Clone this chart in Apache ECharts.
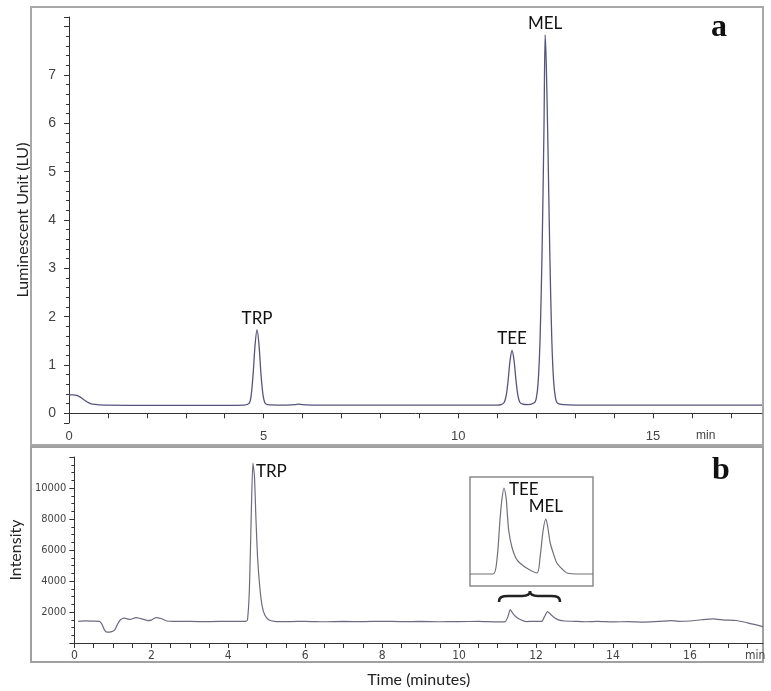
<!DOCTYPE html>
<html>
<head>
<meta charset="utf-8">
<script src="https://cdn.jsdelivr.net/npm/echarts@6/dist/echarts.min.js"></script>
<style>
  html, body { margin: 0; padding: 0; background: #fff; }
  #chart { width: 771px; height: 691px; }
</style>
</head>
<body>
<div id="chart"></div>
<script>
// panel a : fluorescence trace, [min, LU]
var traceA = [
  [0, 0.38], [0.1, 0.38], [0.2, 0.37], [0.3, 0.33], [0.4, 0.27], [0.5, 0.22], [0.6, 0.19],
  [0.8, 0.175], [1.0, 0.17], [2, 0.165], [3, 0.165], [4, 0.165], [4.5, 0.17],
  [4.63, 0.21], [4.68, 0.38], [4.73, 0.82], [4.78, 1.42], [4.83, 1.73], [4.88, 1.42],
  [4.93, 0.82], [4.98, 0.4], [5.03, 0.22], [5.1, 0.18], [5.5, 0.17], [5.8, 0.18],
  [5.9, 0.19], [6.0, 0.18], [6.3, 0.17], [7, 0.17], [8, 0.17], [9, 0.17], [10, 0.17],
  [11, 0.17], [11.1, 0.18], [11.18, 0.23], [11.23, 0.37], [11.28, 0.69], [11.33, 1.1],
  [11.38, 1.3], [11.43, 1.1], [11.48, 0.69], [11.53, 0.37], [11.58, 0.23], [11.65, 0.19],
  [11.8, 0.18], [11.95, 0.22], [12.0, 0.3], [12.05, 0.64], [12.1, 1.55], [12.15, 3.3],
  [12.2, 5.9], [12.23, 7.83], [12.26, 7.2], [12.3, 5.6], [12.35, 3.3], [12.4, 1.55],
  [12.45, 0.64], [12.5, 0.3], [12.55, 0.21], [12.7, 0.18], [13, 0.17], [14, 0.17],
  [16, 0.17], [17.8, 0.17]
];
var peaksA = [
  { name: 'TRP', t: 4.83, v: 1.73 },
  { name: 'TEE', t: 11.38, v: 1.3 },
  { name: 'MEL', t: 12.23, v: 7.83 }
];
var ticksAY = [0, 1, 2, 3, 4, 5, 6, 7];
var ticksAX = [0, 5, 10, 15];

// panel b : intensity trace, [min, counts]
var traceB = [
  [0.1, 1400], [0.3, 1430], [0.5, 1410], [0.65, 1400], [0.72, 1200], [0.78, 850],
  [0.85, 700], [0.95, 720], [1.05, 850], [1.12, 1200], [1.2, 1500], [1.3, 1600],
  [1.45, 1520], [1.6, 1640], [1.75, 1560], [1.9, 1450], [2.0, 1480], [2.12, 1640],
  [2.25, 1580], [2.4, 1420], [2.6, 1400], [3.0, 1390], [3.5, 1380], [4.0, 1400],
  [4.3, 1390], [4.45, 1400], [4.5, 1500], [4.55, 3500], [4.6, 8500], [4.64, 11600],
  [4.68, 10800], [4.72, 8000], [4.76, 5600], [4.82, 3600], [4.88, 2400], [4.95, 1800],
  [5.05, 1500], [5.2, 1400], [5.6, 1380], [6.0, 1400], [6.5, 1370], [7.0, 1390],
  [7.5, 1380], [8.0, 1400], [8.5, 1380], [9.0, 1390], [9.5, 1370], [10.0, 1380],
  [10.5, 1390], [11.0, 1360], [11.2, 1380], [11.27, 1700], [11.33, 2150], [11.4, 1900],
  [11.5, 1650], [11.6, 1500], [11.75, 1380], [11.95, 1400], [12.15, 1390], [12.22, 1700],
  [12.3, 2020], [12.4, 1800], [12.5, 1600], [12.6, 1480], [12.75, 1420], [13.0, 1400],
  [13.3, 1370], [13.6, 1390], [14.0, 1360], [14.4, 1380], [14.8, 1350], [15.2, 1390],
  [15.5, 1450], [15.7, 1400], [16.0, 1420], [16.3, 1500], [16.6, 1560], [16.9, 1480],
  [17.2, 1450], [17.5, 1300], [17.75, 1150], [17.9, 1050]
];
var peaksB = [{ name: 'TRP', t: 4.64, v: 11600 }];
var ticksBY = [2000, 4000, 6000, 8000, 10000];
var ticksBX = [0, 2, 4, 6, 8, 10, 12, 14, 16];

// inset of panel b, zoomed TEE / MEL (relative units)
var insetB = [
  [10.61, 12], [11.13, 12], [11.22, 26], [11.29, 66], [11.33, 85], [11.38, 98],
  [11.43, 88], [11.45, 76], [11.49, 55], [11.56, 39], [11.65, 28], [11.74, 23],
  [11.93, 17], [12.13, 13], [12.2, 29], [12.27, 56], [12.33, 67], [12.37, 60],
  [12.43, 43], [12.52, 30], [12.58, 23], [12.7, 17], [12.81, 13], [13.11, 12], [13.4, 12]
];
var peaksInset = [
  { name: 'TEE', t: 11.38, v: 98 },
  { name: 'MEL', t: 12.33, v: 67 }
];

var tickFont = 'Liberation Sans';
var narrowFont = '"DejaVu Sans Condensed", "Liberation Sans", sans-serif';
var textFont = 'Lato';

function pick(list) {
  return function (v) { return list.indexOf(Math.round(v * 1000) / 1000) >= 0 ? String(v) : ''; };
}
function peakMarks(peaks, pos, offset) {
  return {
    symbol: 'circle', symbolSize: 0, animation: false,
    label: {
      show: true, position: pos, distance: 3, offset: offset || [0, 0],
      formatter: '{b}', color: '#111', fontSize: 17, fontFamily: textFont
    },
    data: peaks.map(function (p) { return { name: p.name, coord: [p.t, p.v] }; })
  };
}

// curly brace under the inset
var braceStyle = { fill: 'none', stroke: '#222', lineWidth: 2.5 };
var brace = {
  type: 'group', x: 499, y: 591,
  children: [
    { type: 'bezierCurve', shape: { x1: 0, y1: 11, cpx1: 0, cpy1: 6, cpx2: 3, cpy2: 5, x2: 9, y2: 5 }, style: braceStyle },
    { type: 'line', shape: { x1: 9, y1: 5, x2: 23, y2: 5 }, style: braceStyle },
    { type: 'bezierCurve', shape: { x1: 23, y1: 5, cpx1: 28, cpy1: 5, cpx2: 31, cpy2: 3, x2: 31, y2: 0 }, style: braceStyle },
    { type: 'bezierCurve', shape: { x1: 31, y1: 0, cpx1: 31, cpy1: 3, cpx2: 34, cpy2: 5, x2: 39, y2: 5 }, style: braceStyle },
    { type: 'line', shape: { x1: 39, y1: 5, x2: 52, y2: 5 }, style: braceStyle },
    { type: 'bezierCurve', shape: { x1: 52, y1: 5, cpx1: 58, cpy1: 5, cpx2: 61, cpy2: 6, x2: 61, y2: 11 }, style: braceStyle }
  ]
};

var chart = echarts.init(document.getElementById('chart'));
chart.setOption({
  animation: false,
  backgroundColor: '#fff',
  grid: [
    { left: 69, top: 17, width: 693, height: 406 },
    { left: 70, top: 457, width: 693, height: 186 },
    { left: 470, top: 477, width: 123, height: 109, show: true, borderColor: '#8a8a8a', borderWidth: 1.5 }
  ],
  xAxis: [
    {
      gridIndex: 0, type: 'value', min: 0, max: 17.8, interval: 1,
      axisLine: { lineStyle: { color: '#333' } },
      axisTick: { length: 5, lineStyle: { color: '#333' } },
      splitLine: { show: false },
      axisLabel: { formatter: pick(ticksAX), color: '#444', fontSize: 13, fontFamily: tickFont, margin: 7, showMaxLabel: false }
    },
    {
      gridIndex: 1, type: 'value', min: 0, max: 17.9, interval: 0.5,
      name: 'Time (minutes)', nameLocation: 'middle', nameGap: 29,
      nameTextStyle: { color: '#222', fontSize: 16, fontFamily: textFont },
      axisLine: { lineStyle: { color: '#333' } },
      axisTick: { length: 5, lineStyle: { color: '#333' } },
      splitLine: { show: false },
      axisLabel: { formatter: pick(ticksBX), color: '#444', fontSize: 12, fontFamily: narrowFont, margin: 7, showMaxLabel: false }
    },
    { gridIndex: 2, type: 'value', min: 10.61, max: 13.4, show: false, splitLine: { show: false } }
  ],
  yAxis: [
    {
      gridIndex: 0, type: 'value', min: -0.2, max: 8.2, splitNumber: 8,
      name: 'Luminescent Unit (LU)', nameLocation: 'middle', nameGap: 38,
      nameTextStyle: { color: '#222', fontSize: 16, fontFamily: textFont },
      axisLine: { show: true, lineStyle: { color: '#333' } },
      axisTick: { show: true, length: 5, lineStyle: { color: '#333' } },
      minorTick: { show: true, splitNumber: 5, length: 3, lineStyle: { color: '#333' } },
      splitLine: { show: false },
      axisLabel: { formatter: pick(ticksAY), color: '#444', fontSize: 14, fontFamily: tickFont, margin: 13 }
    },
    {
      gridIndex: 1, type: 'value', min: 0, max: 12000, interval: 2000,
      name: 'Intensity', nameLocation: 'middle', nameGap: 38,
      nameTextStyle: { color: '#222', fontSize: 16, fontFamily: textFont },
      axisLine: { show: true, lineStyle: { color: '#333' } },
      axisTick: { show: true, length: 5, lineStyle: { color: '#333' } },
      minorTick: { show: true, splitNumber: 4, length: 3, lineStyle: { color: '#333' } },
      splitLine: { show: false },
      axisLabel: { formatter: pick(ticksBY), color: '#444', fontSize: 11, fontFamily: narrowFont, margin: 8 }
    },
    { gridIndex: 2, type: 'value', min: 0, max: 109, show: false, splitLine: { show: false } }
  ],
  series: [
    {
      type: 'line', xAxisIndex: 0, yAxisIndex: 0, data: traceA, smooth: 0.3,
      showSymbol: false, lineStyle: { color: '#55557c', width: 1.3 },
      markPoint: peakMarks(peaksA, 'top')
    },
    {
      type: 'line', xAxisIndex: 1, yAxisIndex: 1, data: traceB, smooth: 0.2,
      showSymbol: false, lineStyle: { color: '#6c6c7e', width: 1.2 },
      markPoint: peakMarks(peaksB, 'right', [0, 8])
    },
    {
      type: 'line', xAxisIndex: 2, yAxisIndex: 2, data: insetB, smooth: 0.3,
      showSymbol: false, lineStyle: { color: '#707078', width: 1.2 },
      markPoint: {
        symbol: 'circle', symbolSize: 0,
        label: { show: true, formatter: '{b}', color: '#111', fontSize: 17, fontFamily: textFont },
        data: [
          { name: peaksInset[0].name, coord: [peaksInset[0].t, peaksInset[0].v], label: { position: 'right', offset: [0, 2] } },
          { name: peaksInset[1].name, coord: [peaksInset[1].t, peaksInset[1].v], label: { position: 'top', distance: 4 } }
        ]
      }
    }
  ],
  graphic: [
    { type: 'rect', shape: { x: 31, y: 7, width: 732, height: 438 }, style: { fill: 'none', stroke: '#a8a8a8', lineWidth: 2 }, z: -1 },
    { type: 'rect', shape: { x: 31, y: 447, width: 732, height: 215 }, style: { fill: 'none', stroke: '#a0a0a0', lineWidth: 2 }, z: -1 },
    { type: 'text', x: 696, y: 430, style: { text: 'min', fill: '#444', font: '12px "Liberation Sans"' } },
    { type: 'text', x: 745, y: 650, style: { text: 'min', fill: '#444', font: '12px "DejaVu Sans Condensed", "Liberation Sans", sans-serif' } },
    { type: 'text', x: 711, y: 12, style: { text: 'a', fill: '#111', font: 'bold 32px "Liberation Serif"' } },
    { type: 'text', x: 712, y: 455, style: { text: 'b', fill: '#111', font: 'bold 32px "Liberation Serif"' } },
    brace
  ]
});
</script>
</body>
</html>
